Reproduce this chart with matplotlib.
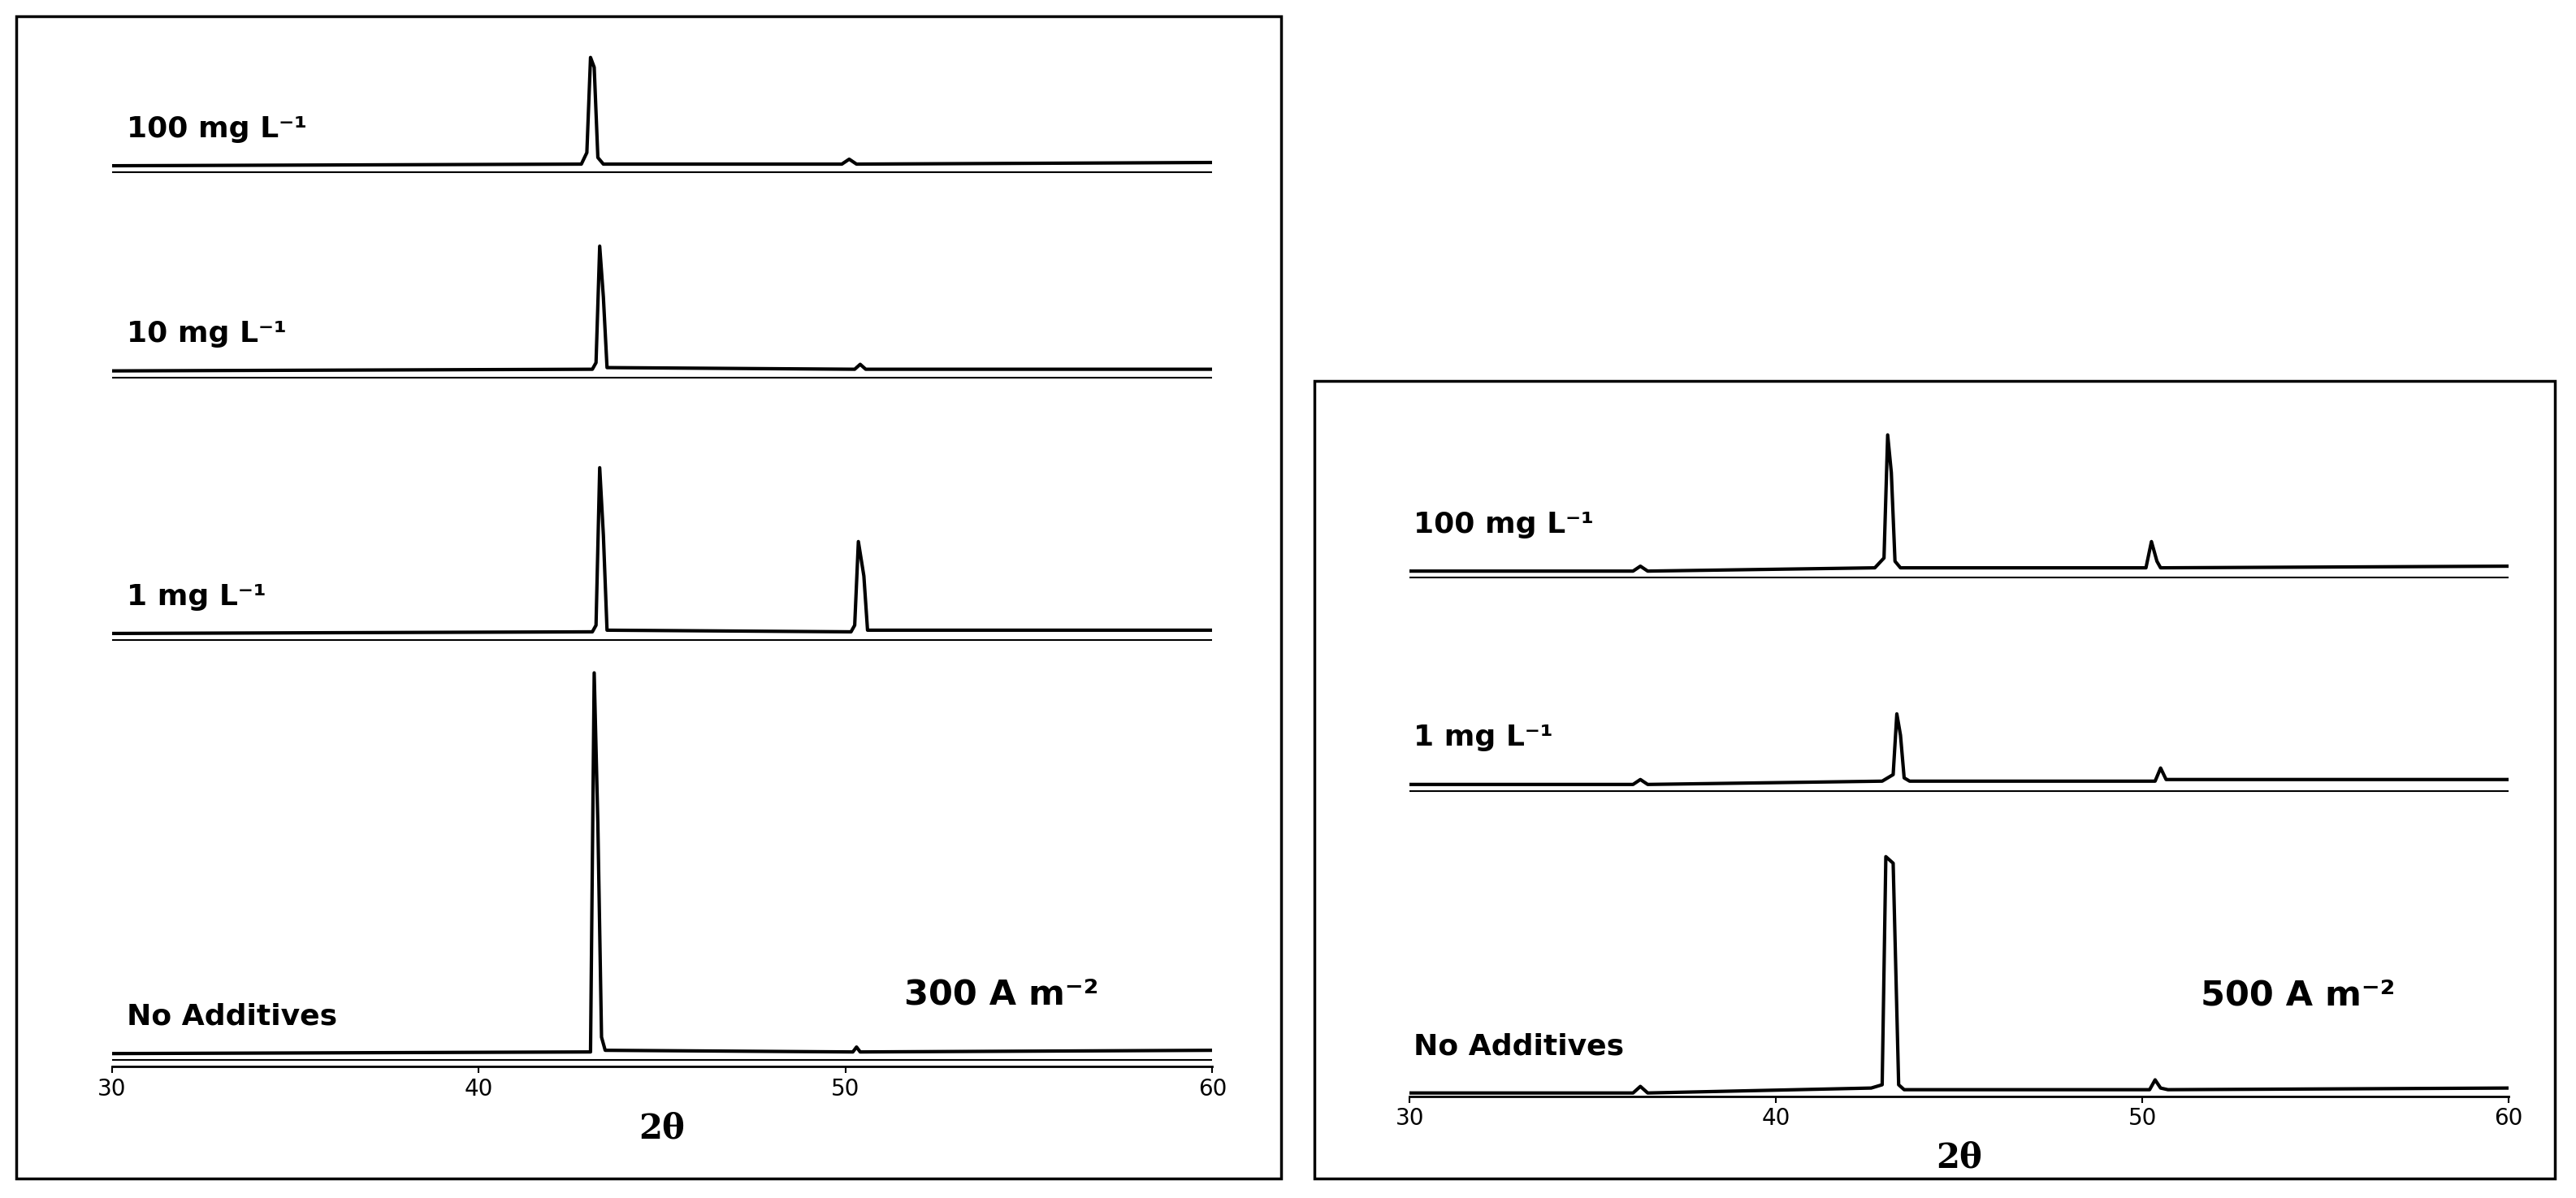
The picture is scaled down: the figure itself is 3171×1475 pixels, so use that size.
import matplotlib
matplotlib.use("Agg")
import matplotlib.pyplot as plt
from matplotlib.patches import Rectangle

# ---- data (2theta, intensity in arbitrary units) ----
left_labels = ["100 mg L⁻¹", "10 mg L⁻¹", "1 mg L⁻¹", "No Additives"]
left_offsets = [549, 424, 264, 8]
left_x = [
    [30, 42.8, 42.95, 43.05, 43.15, 43.25, 43.4, 49.9, 50.1, 50.3, 60],
    [30, 43.1, 43.2, 43.3, 43.4, 43.5, 50.25, 50.4, 50.55, 60],
    [30, 43.1, 43.2, 43.3, 43.4, 43.5, 50.15, 50.25, 50.35, 50.5, 50.6, 60],
    [30, 43.05, 43.15, 43.25, 43.35, 43.45, 50.2, 50.3, 50.4, 60],
]
left_y = [
    [0, 1, 8, 66, 60, 5, 1, 1, 4, 1, 2],
    [0, 1, 5, 76, 45, 2, 1, 4, 1, 1],
    [0, 1, 5, 101, 60, 2, 1, 5, 56, 35, 2, 2],
    [0, 1, 232, 140, 10, 2, 1, 4, 1, 2],
]

right_labels = ["100 mg L⁻¹", "1 mg L⁻¹", "No Additives"]
right_offsets = [320, 190, 2]
right_x = [
    [30, 36.1, 36.3, 36.5, 42.7, 42.95, 43.05, 43.15, 43.25, 43.4, 50.1, 50.25, 50.4, 50.5, 60],
    [30, 36.1, 36.3, 36.5, 42.9, 43.2, 43.3, 43.4, 43.5, 43.65, 50.35, 50.5, 50.65, 60],
    [30, 36.1, 36.3, 36.5, 42.6, 42.9, 43.0, 43.2, 43.35, 43.5, 50.2, 50.35, 50.5, 50.7, 60],
]
right_y = [
    [0, 0, 3, 0, 2, 8, 83, 60, 6, 2, 2, 18, 6, 2, 3],
    [0, 0, 3, 0, 2, 6, 43, 30, 4, 2, 2, 10, 3, 3],
    [0, 0, 4, 0, 3, 5, 144, 140, 5, 2, 2, 8, 3, 2, 3],
]

xticks = [30, 40, 50, 60]

W, H = 1568, 730  # reference layout units
fig = plt.figure(figsize=(31.71, 14.75), dpi=100)
plt.rcParams['font.family'] = ['DejaVu Sans']

def fx(x): return x / W
def fy(y): return 1 - y / H

fig.patches.append(Rectangle((fx(10), fy(718)), fx(770), 708 / H, transform=fig.transFigure,
                             fill=False, lw=2.5, ec="black"))
fig.patches.append(Rectangle((fx(800), fy(718)), fx(755), 486 / H, transform=fig.transFigure,
                             fill=False, lw=2.5, ec="black"))

def panel(x0, x1, ybot, ytop, xs, ys, offs, labels, title, lab_x, title_y, lab_dy):
    ax = fig.add_axes([fx(x0), fy(ybot), fx(x1 - x0), (ybot - ytop) / H])
    ax.set_xlim(30, 60)
    ax.set_ylim(0, ybot - ytop)
    for x, y, o, lab in zip(xs, ys, offs, labels):
        ax.plot(x, [v + o for v in y], color="black", lw=3)
        ax.plot([30, 60], [o - 4, o - 4], color="black", lw=1.5)
        ax.text(lab_x, o + lab_dy, lab, fontsize=26, fontweight="bold", va="bottom")
    for s in ["top", "right", "left"]:
        ax.spines[s].set_visible(False)
    ax.spines["bottom"].set_linewidth(2)
    ax.set_yticks([])
    ax.set_xticks(xticks)
    ax.tick_params(axis="x", labelsize=20, length=6, width=1.5, direction="out")
    ax.set_xlabel("2θ", fontsize=30, fontweight="bold", family="DejaVu Serif", labelpad=10)
    ax.text(0.72, title_y, title, transform=ax.transAxes, fontsize=31, fontweight="bold")
    return ax

panel(68, 738, 650, 20, left_x, left_y, left_offsets, left_labels, "300 A m⁻²", 30.4, 0.06, 14)
panel(858, 1527, 668, 240, right_x, right_y, right_offsets, right_labels, "500 A m⁻²", 30.1, 0.13, 20)

fig.savefig("out.png", dpi=100)
